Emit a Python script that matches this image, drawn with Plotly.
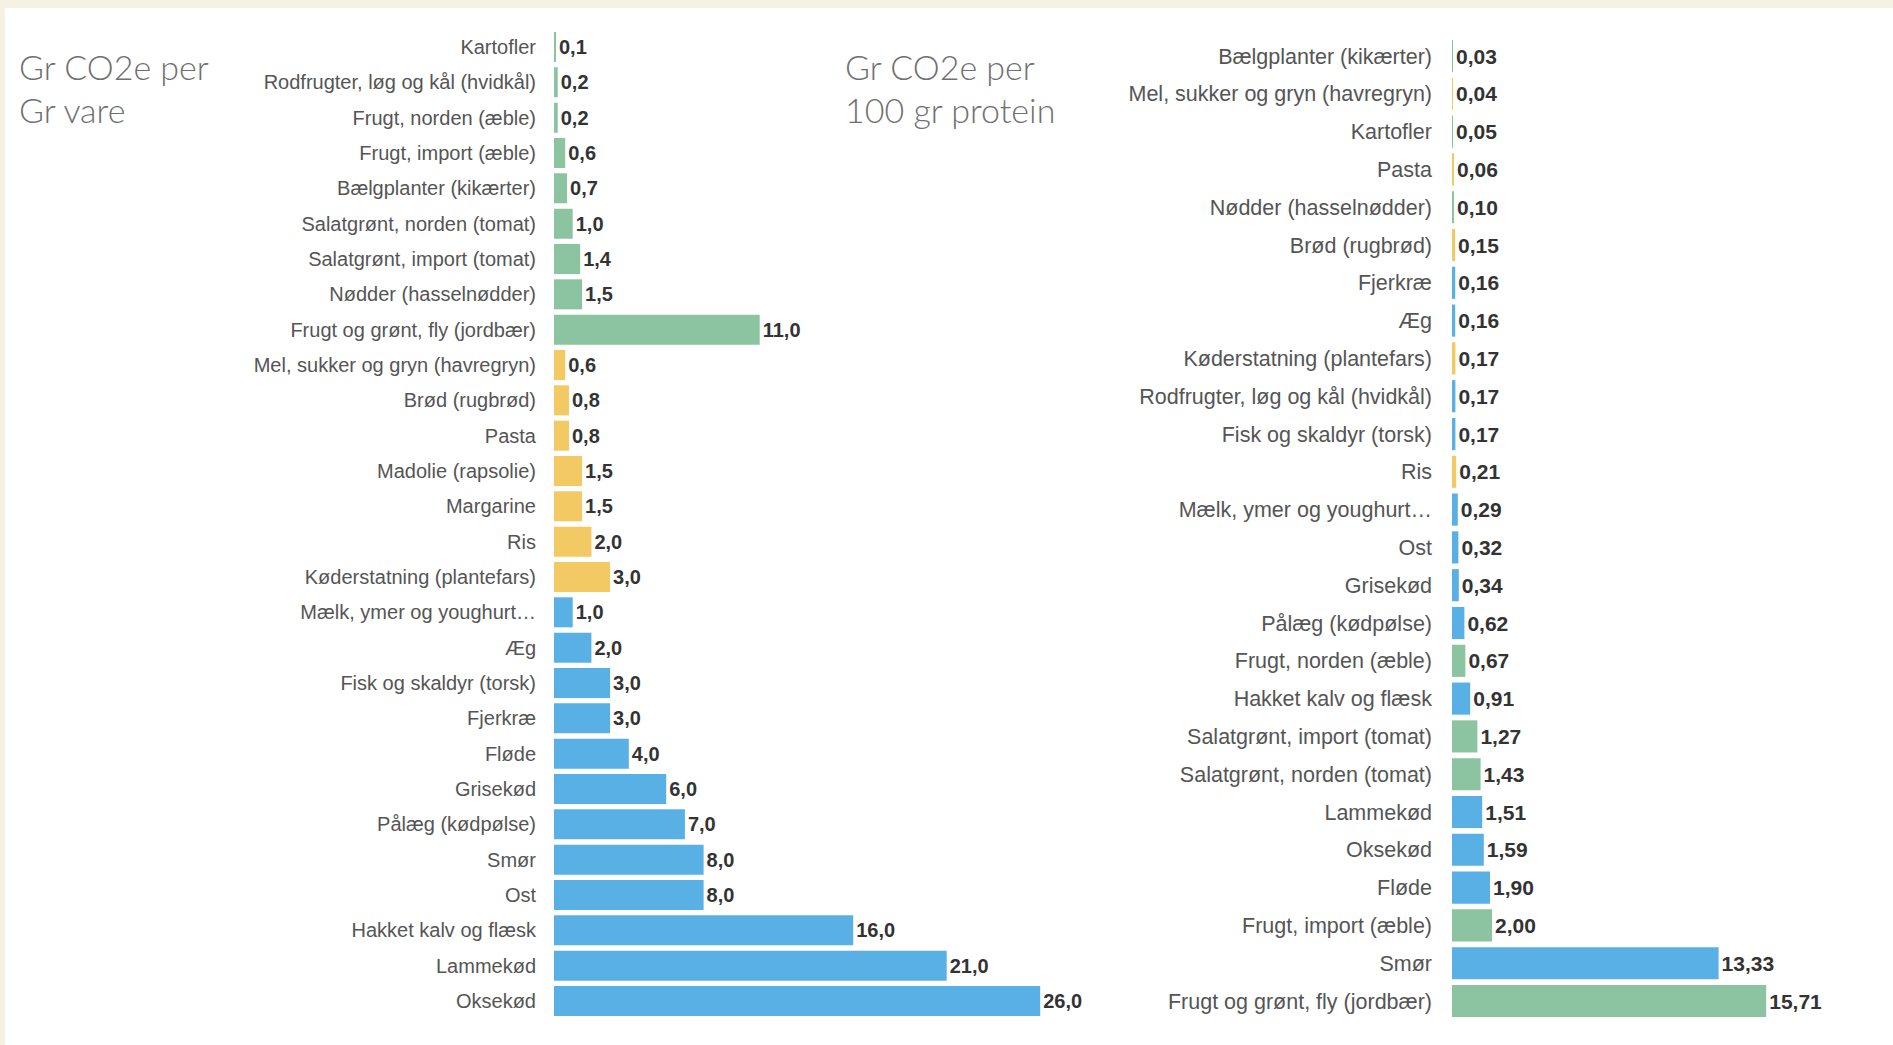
import plotly.graph_objects as go

# ---------------- data ----------------
left_items = [
    "Kartofler", "Rodfrugter, løg og kål (hvidkål)", "Frugt, norden (æble)",
    "Frugt, import (æble)", "Bælgplanter (kikærter)", "Salatgrønt, norden (tomat)",
    "Salatgrønt, import (tomat)", "Nødder (hasselnødder)", "Frugt og grønt, fly (jordbær)",
    "Mel, sukker og gryn (havregryn)", "Brød (rugbrød)", "Pasta", "Madolie (rapsolie)",
    "Margarine", "Ris", "Køderstatning (plantefars)", "Mælk, ymer og youghurt…", "Æg",
    "Fisk og skaldyr (torsk)", "Fjerkræ", "Fløde", "Grisekød", "Pålæg (kødpølse)",
    "Smør", "Ost", "Hakket kalv og flæsk", "Lammekød", "Oksekød",
]
left_values = [0.1, 0.2, 0.2, 0.6, 0.7, 1.0, 1.4, 1.5, 11.0,
               0.6, 0.8, 0.8, 1.5, 1.5, 2.0, 3.0,
               1.0, 2.0, 3.0, 3.0, 4.0, 6.0, 7.0, 8.0, 8.0, 16.0, 21.0, 26.0]
left_groups = ["grøn", "grøn", "grøn", "grøn", "grøn", "grøn", "grøn", "grøn", "grøn",
               "korn", "korn", "korn", "korn", "korn", "korn", "korn",
               "dyr", "dyr", "dyr", "dyr", "dyr", "dyr", "dyr", "dyr", "dyr", "dyr", "dyr", "dyr"]

right_items = [
    "Bælgplanter (kikærter)", "Mel, sukker og gryn (havregryn)", "Kartofler", "Pasta",
    "Nødder (hasselnødder)", "Brød (rugbrød)", "Fjerkræ", "Æg", "Køderstatning (plantefars)",
    "Rodfrugter, løg og kål (hvidkål)", "Fisk og skaldyr (torsk)", "Ris",
    "Mælk, ymer og youghurt…", "Ost", "Grisekød", "Pålæg (kødpølse)", "Frugt, norden (æble)",
    "Hakket kalv og flæsk", "Salatgrønt, import (tomat)", "Salatgrønt, norden (tomat)",
    "Lammekød", "Oksekød", "Fløde", "Frugt, import (æble)", "Smør",
    "Frugt og grønt, fly (jordbær)",
]
right_values = [0.03, 0.04, 0.05, 0.06, 0.10, 0.15, 0.16, 0.16, 0.17, 0.17, 0.17, 0.21,
                0.29, 0.32, 0.34, 0.62, 0.67, 0.91, 1.27, 1.43, 1.51, 1.59, 1.90, 2.00,
                13.33, 15.71]
right_groups = ["grøn", "korn", "grøn", "korn", "grøn", "korn", "dyr", "dyr", "korn",
                "dyr", "dyr", "korn", "dyr", "dyr", "dyr", "dyr", "grøn", "dyr", "grøn",
                "grøn", "dyr", "dyr", "dyr", "grøn", "dyr", "grøn"]

title_left = ["Gr CO2e per", "Gr vare"]
title_right = ["Gr CO2e per", "100 gr protein"]

# ---------------- style ----------------
W, H = 1893, 1045
COLORS = {"grøn": "#8cc4a2", "korn": "#f2c962", "dyr": "#58b0e4"}
BEIGE = "#f6f2e3"
LABEL_FONT_L = dict(family="Liberation Sans, Arial", size=20, color="#555555")
LABEL_FONT_R = dict(family="Liberation Sans, Arial", size=21.5, color="#555555")
VALUE_FONT_L = dict(family="Liberation Sans, Arial", size=20, color="#333333", weight="bold")
VALUE_FONT_R = dict(family="Liberation Sans, Arial", size=21, color="#333333", weight="bold")
TITLE_FONT = dict(family="Lato, Open Sans", size=34, color="#707070", weight=300)


def px_x(p):
    return p / W


def px_y(p):
    return 1 - p / H


fig = go.Figure()

fig.add_trace(go.Bar(
    x=left_values, y=left_items, orientation="h",
    marker=dict(color=[COLORS[g] for g in left_groups], line=dict(width=0)),
    texttemplate="%{x:.1f}", textposition="outside", cliponaxis=False,
    textfont=VALUE_FONT_L, xaxis="x", yaxis="y", showlegend=False,
))
fig.add_trace(go.Bar(
    x=right_values, y=right_items, orientation="h",
    marker=dict(color=[COLORS[g] for g in right_groups], line=dict(width=0)),
    texttemplate="%{x:.2f}", textposition="outside", cliponaxis=False,
    textfont=VALUE_FONT_R, xaxis="x2", yaxis="y2", showlegend=False,
))

# left panel geometry: axis at x=554px, 18.7 px per unit; rows 47..1001
l_x0, l_x1, l_scale = 554, 1120, 18.7
l_top, l_bot = 47 - 35.33 / 2, 1001 + 35.33 / 2
# right panel geometry: axis at x=1452px, 20 px per unit; rows 56..1001
r_x0, r_x1, r_scale = 1452, 1893, 20.0
r_top, r_bot = 56 - 37.8 / 2, 1001 + 37.8 / 2

axis_common = dict(showgrid=False, zeroline=False, showline=False, showticklabels=False, fixedrange=True)

fig.update_layout(
    width=W, height=H,
    margin=dict(l=0, r=0, t=0, b=0),
    paper_bgcolor="white", plot_bgcolor="rgba(0,0,0,0)",
    separators=",.",
    bargap=0.15,
    uniformtext=dict(mode=False),
    xaxis=dict(domain=[px_x(l_x0), px_x(l_x1)], range=[0, (l_x1 - l_x0) / l_scale],
               anchor="y", **axis_common),
    yaxis=dict(domain=[px_y(l_bot), px_y(l_top)], anchor="x", type="category",
               range=[len(left_items) - 0.5, -0.5], showgrid=False, zeroline=False,
               showline=False, ticks="", tickfont=LABEL_FONT_L, ticklabelstandoff=17,
               fixedrange=True),
    xaxis2=dict(domain=[px_x(r_x0), px_x(r_x1)], range=[0, (r_x1 - r_x0) / r_scale],
                anchor="y2", **axis_common),
    yaxis2=dict(domain=[px_y(r_bot), px_y(r_top)], anchor="x2", type="category",
                range=[len(right_items) - 0.5, -0.5], showgrid=False, zeroline=False,
                showline=False, ticks="", tickfont=LABEL_FONT_R,
                ticklabelstandoff=19, fixedrange=True),
    shapes=[
        dict(type="rect", xref="paper", yref="paper", x0=0, x1=1, y0=px_y(8), y1=1,
             fillcolor=BEIGE, line=dict(width=0), layer="below"),
        dict(type="rect", xref="paper", yref="paper", x0=0, x1=px_x(5), y0=0, y1=1,
             fillcolor=BEIGE, line=dict(width=0), layer="below"),
    ],
)

for i, line in enumerate(title_left):
    fig.add_annotation(text=line, xref="paper", yref="paper", x=px_x(17), y=px_y(67 + 42 * i),
                       xanchor="left", yanchor="middle", showarrow=False, font=TITLE_FONT)
for i, line in enumerate(title_right):
    fig.add_annotation(text=line, xref="paper", yref="paper", x=px_x(843), y=px_y(67 + 42 * i),
                       xanchor="left", yanchor="middle", showarrow=False, font=TITLE_FONT)

fig.write_html("out.html")
